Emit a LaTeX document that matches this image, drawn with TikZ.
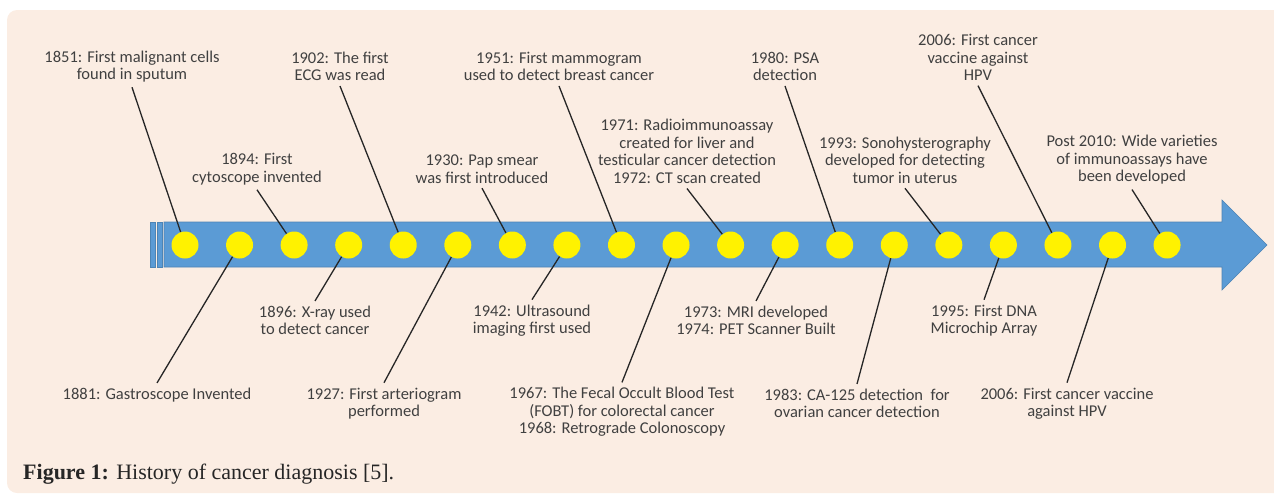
\documentclass[tikz,border=0pt]{standalone}
\usepackage{fontspec}
\setmainfont{Liberation Serif}
\newfontfamily\eventfont{Carlito}
\definecolor{bgpeach}{HTML}{FBEDE3}
\definecolor{arrowblue}{HTML}{5B9BD5}
\definecolor{textgray}{HTML}{404040}

\begin{document}
\begin{tikzpicture}[x=1pt, y=-1pt]
\tikzset{
    event/.style={font=\eventfont\fontsize{16.5}{17.5}\selectfont, text=textgray,
        align=center, inner sep=0pt, outer sep=5pt},
    dot/.style={circle, fill=yellow, minimum size=27pt, inner sep=0pt},
    pointer/.style={draw=black!85, line width=1.3pt},
    band/.style={fill=arrowblue, draw=arrowblue!85!black, line width=0.6pt}
}

\useasboundingbox (0,0) rectangle (1274,496);
\clip (0,0) rectangle (1274,496);
\fill[bgpeach, rounded corners=10pt] (7,10) rectangle (1295,493);

\path[band] (150,222) rectangle (155,267);
\path[band] (157,222) rectangle (162,267);
\path[band] (164,222) -- (1222,222) -- (1222,200) -- (1267,245)
    -- (1222,290) -- (1222,267) -- (164,267) -- cycle;

\foreach \i in {1,...,19}
    \node[dot] (d\i) at ({185+(\i-1)*54.56}, 245) {};

\node[event] (t1) at (132,66.5) {1851: First malignant cells\\found in sputum};
\node[event] (t2) at (257,169) {1894: First\\cytoscope invented};
\node[event] (t3) at (340,66.5) {1902: The first\\ECG was read};
\node[event] (t4) at (482,169) {1930: Pap smear\\was first introduced};
\node[event] (t5) at (559,66.5) {1951: First mammogram\\used to detect breast cancer};
\node[event] (t6) at (687,151.5) {1971: Radioimmunoassay\\created for liver and\\testicular cancer detection\\1972: CT scan created};
\node[event] (t7) at (785,66.5) {1980: PSA\\detection};
\node[event] (t8) at (905,160) {1993: Sonohysterography\\developed for detecting\\tumor in uterus};
\node[event] (t9) at (978,57.5) {2006: First cancer\\vaccine against\\HPV};
\node[event] (t10) at (1132,160) {Post 2010: Wide varieties\\of immunoassays have\\been developed};

\node[event] (b1) at (157,395) {1881: Gastroscope Invented};
\node[event] (b2) at (315,320.5) {1896: X-ray used\\to detect cancer};
\node[event] (b3) at (384,403.5) {1927: First arteriogram\\performed};
\node[event] (b4) at (532,320.5) {1942: Ultrasound\\imaging first used};
\node[event] (b5) at (622,412) {1967: The Fecal Occult Blood Test\\(FOBT) for colorectal cancer\\1968: Retrograde Colonoscopy};
\node[event] (b6) at (756,320.5) {1973: MRI developed\\1974: PET Scanner Built};
\node[event] (b7) at (857,403.5) {1983: CA-125 detection\ \ for\\ovarian cancer detection};
\node[event] (b8) at (984,320.5) {1995: First DNA\\Microchip Array};
\node[event] (b9) at (1067,403.5) {2006: First cancer vaccine\\against HPV};

\foreach \t/\d in {1/1, 2/3, 3/5, 4/7, 5/9, 6/11, 7/13, 8/15, 9/17, 10/19}
    \draw[pointer] (t\t.south) -- (d\d);
\foreach \b/\d in {1/2, 2/4, 3/6, 4/8, 5/10, 6/12, 7/14, 8/16, 9/18}
    \draw[pointer] (d\d) -- (b\b.north);

\node[anchor=west, inner sep=0pt, font=\fontsize{22}{24}\selectfont, text=black!85] (caption)
    at (23,474) {\textbf{Figure 1:} History of cancer diagnosis [5].};
\end{tikzpicture}
\end{document}
